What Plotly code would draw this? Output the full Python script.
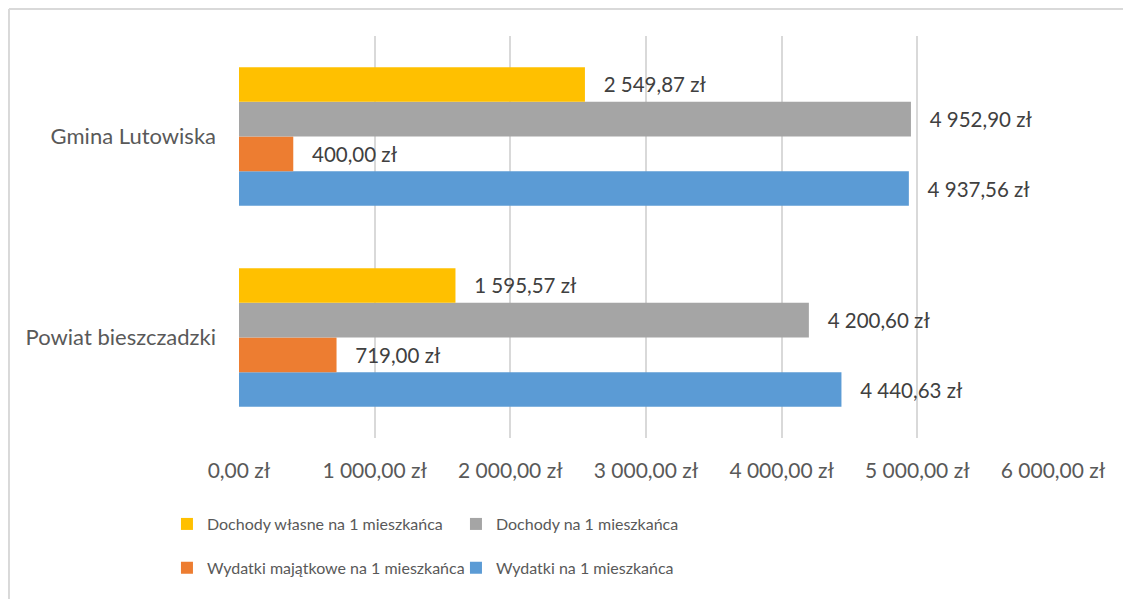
import plotly.graph_objects as go

# ---------------------------------------------------------------------------
# Data
# ---------------------------------------------------------------------------
categories = ["Powiat bieszczadzki", "Gmina Lutowiska"]

wydatki = [4440.63, 4937.56]
wydatki_majatkowe = [719.00, 400.00]
dochody = [4200.60, 4952.90]
dochody_wlasne = [1595.57, 2549.87]

x_ticks = [0, 1000, 2000, 3000, 4000, 5000, 6000]


def pln(v: float) -> str:
    """Polish money format: space as thousands separator, comma decimal."""
    return f"{v:,.2f}".replace(",", " ").replace(".", ",") + " zł"


x_ticktext = [pln(v) for v in x_ticks]

FONT = "Lato, 'Open Sans', sans-serif"

# plotly stacks horizontal groups bottom-up, so add the bottom bar first
series = [
    ("Wydatki na 1 mieszkańca", wydatki, "#5B9BD5", "legend2"),
    ("Wydatki majątkowe na 1 mieszkańca", wydatki_majatkowe, "#ED7D31", "legend2"),
    ("Dochody na 1 mieszkańca", dochody, "#A5A5A5", "legend"),
    ("Dochody własne na 1 mieszkańca", dochody_wlasne, "#FFC000", "legend"),
]

fig = go.Figure()
for name, vals, colour, leg in series:
    fig.add_trace(
        go.Bar(
            y=categories,
            x=vals,
            orientation="h",
            name=name,
            marker=dict(color=colour, line=dict(width=0)),
            texttemplate="\u00a0\u00a0\u00a0%{x:,.2f} zł",
            textposition="outside",
            textfont=dict(family=FONT, size=20.5, color="#404040"),
            cliponaxis=False,
            legend=leg,
        )
    )

legend_common = dict(
    orientation="h",
    xanchor="left",
    yanchor="middle",
    x=-0.0885,
    traceorder="reversed",
    entrywidth=244,
    itemwidth=30,
    font=dict(family=FONT, size=16, color="#595959"),
    bgcolor="rgba(0,0,0,0)",
)

# the page body adds an 8px offset, so the figure is 8px smaller than the window
fig.update_layout(
    barmode="group",
    bargap=0.31,
    bargroupgap=0,
    separators=", ",
    width=1123,
    height=591,
    margin=dict(l=231, r=78, t=28, b=161),
    paper_bgcolor="white",
    plot_bgcolor="white",
    showlegend=True,
    legend=dict(legend_common, y=-0.214),
    legend2=dict(legend_common, y=-0.323),
    xaxis=dict(
        range=[0, 6000],
        tickmode="array",
        tickvals=x_ticks,
        ticktext=x_ticktext,
        showgrid=True,
        gridcolor="#D9D9D9",
        gridwidth=1.5,
        zeroline=False,
        showline=False,
        ticklabelstandoff=18,
        tickfont=dict(family=FONT, size=21, color="#595959"),
    ),
    yaxis=dict(
        showgrid=False,
        zeroline=False,
        showline=False,
        ticklabelstandoff=22,
        tickfont=dict(family=FONT, size=22, color="#595959"),
    ),
    shapes=[
        # chart-area border (left and top edges visible in the crop)
        dict(type="line", xref="paper", yref="paper", x0=-0.2826, x1=1.2,
             y0=1.0672, y1=1.0672, line=dict(color="#D9D9D9", width=2)),
        dict(type="line", xref="paper", yref="paper", x0=-0.2826, x1=-0.2826,
             y0=1.0672, y1=-0.5, line=dict(color="#D9D9D9", width=2)),
    ],
)

fig.write_html("out.html")
